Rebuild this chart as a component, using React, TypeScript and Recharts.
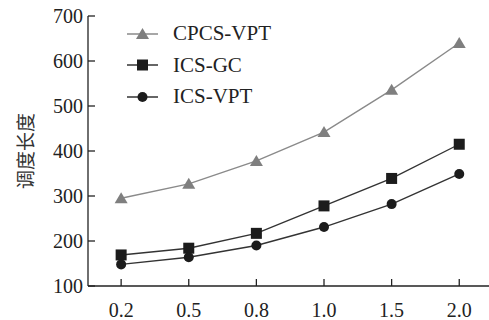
import { LineChart, Line, XAxis, YAxis, Legend } from 'recharts';

const categories = ['0.2', '0.5', '0.8', '1.0', '1.5', '2.0'];
const cpcsVpt = [295, 327, 378, 442, 536, 640];
const icsGc = [169, 184, 217, 278, 339, 415];
const icsVpt = [148, 164, 190, 231, 282, 349];
const yTicks = [100, 200, 300, 400, 500, 600, 700];

const data = categories.map((c, i) => ({
  idx: i,
  label: c,
  cpcs: cpcsVpt[i],
  gc: icsGc[i],
  vpt: icsVpt[i],
}));

const FONT = '"Liberation Serif", "Times New Roman", serif';
const GRAY = '#7f7f7f';
const DARK = '#1c1c1c';

const Triangle = (props: any) => {
  const { cx, cy, key } = props;
  if (cx == null || cy == null) return null;
  return (
    <polygon
      key={key}
      points={`${cx},${cy - 6} ${cx - 6.5},${cy + 5} ${cx + 6.5},${cy + 5}`}
      fill={GRAY}
    />
  );
};

const Square = (props: any) => {
  const { cx, cy, key } = props;
  if (cx == null || cy == null) return null;
  return <rect key={key} x={cx - 5.5} y={cy - 5.5} width={11} height={11} fill={DARK} />;
};

const Circle = (props: any) => {
  const { cx, cy, key } = props;
  if (cx == null || cy == null) return null;
  return <circle key={key} cx={cx} cy={cy} r={5} fill={DARK} />;
};

const XTick = (props: any) => {
  const { x, y, payload } = props;
  return (
    <g>
      <line x1={x} y1={y} x2={x} y2={y - 7} stroke="#222" strokeWidth={1.3} />
      <text x={x} y={y + 31} textAnchor="middle" fontFamily={FONT} fontSize={20} fill="#222">
        {categories[payload.value]}
      </text>
    </g>
  );
};

const YTick = (props: any) => {
  const { x, y, payload } = props;
  return (
    <g>
      <line x1={x} y1={y} x2={x + 7} y2={y} stroke="#222" strokeWidth={1.3} />
      <text x={x - 5} y={y + 7} textAnchor="end" fontFamily={FONT} fontSize={20} fill="#222">
        {payload.value}
      </text>
    </g>
  );
};

const legendItems = [
  { name: 'CPCS-VPT', color: GRAY, line: '#8a8a8a', shape: 'triangle' },
  { name: 'ICS-GC', color: DARK, line: '#333', shape: 'square' },
  { name: 'ICS-VPT', color: DARK, line: '#333', shape: 'circle' },
];

const LegendContent = () => (
  <div style={{ fontFamily: FONT, fontSize: 21, color: '#222' }}>
    {legendItems.map((it) => (
      <div key={it.name} style={{ display: 'flex', alignItems: 'center', height: 31.5 }}>
        <svg width={32} height={16} style={{ marginRight: 14 }}>
          <line x1={0} y1={8} x2={31} y2={8} stroke={it.line} strokeWidth={1.5} />
          {it.shape === 'triangle' && <polygon points="15.5,2 9,13 22,13" fill={it.color} />}
          {it.shape === 'square' && <rect x={10} y={2.5} width={11} height={11} fill={it.color} />}
          {it.shape === 'circle' && <circle cx={15.5} cy={8} r={5} fill={it.color} />}
        </svg>
        <span>{it.name}</span>
      </div>
    ))}
  </div>
);

export default function App() {
  return (
    <div style={{ position: 'absolute', left: 0, top: 0, background: '#fff' }}>
      <LineChart width={489} height={320} data={data} margin={{ top: 16, right: 0, bottom: 0, left: 0 }}>
        <XAxis
          dataKey="idx"
          type="number"
          domain={[-0.49, 5.44]}
          ticks={[0, 1, 2, 3, 4, 5]}
          height={34}
          tickSize={0}
          tickMargin={0}
          tickLine={false}
          tick={<XTick />}
          axisLine={{ stroke: '#222', strokeWidth: 1.3 }}
          allowDataOverflow
        />
        <YAxis
          domain={[100, 700]}
          ticks={yTicks}
          width={88}
          tickSize={0}
          tickMargin={0}
          tickLine={false}
          tick={<YTick />}
          axisLine={{ stroke: '#222', strokeWidth: 1.3 }}
          label={() => (
            <text
              x={24}
              y={151}
              transform="rotate(-90 24 151)"
              textAnchor="middle"
              dominantBaseline="central"
              fontFamily='"Noto Sans CJK SC", sans-serif'
              fontSize={19}
              fill="#333"
            >
              调度长度
            </text>
          )}
        />
        <Legend
          layout="vertical"
          align="center"
          verticalAlign="middle"
          content={<LegendContent />}
          wrapperStyle={{ left: 127, top: 18, width: 'auto' }}
        />
        <Line
          dataKey="cpcs"
          stroke="#8a8a8a"
          strokeWidth={1.4}
          dot={Triangle}
          activeDot={false}
          isAnimationActive={false}
        />
        <Line
          dataKey="gc"
          stroke="#333"
          strokeWidth={1.4}
          dot={Square}
          activeDot={false}
          isAnimationActive={false}
        />
        <Line
          dataKey="vpt"
          stroke="#333"
          strokeWidth={1.4}
          dot={Circle}
          activeDot={false}
          isAnimationActive={false}
        />
      </LineChart>
    </div>
  );
}
